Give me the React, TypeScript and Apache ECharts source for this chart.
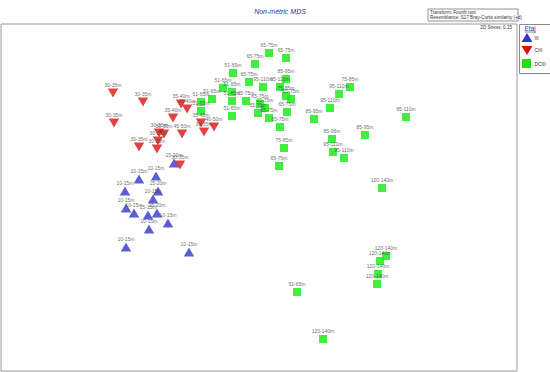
import React, { useEffect, useRef } from "react";
import * as echarts from "echarts";

// MDS ordination positions (in plot units)
const iiiX = [174, 156, 139, 125, 158, 153, 126, 134, 148, 157, 168, 149, 126, 189];
const iiiY = [163, 176, 179, 191, 191, 199, 208, 213, 215, 213, 223, 229, 247, 252];
const iiiLabels = ["15-20m", "10-15m", "10-15m", "10-15m", "15-20m", "10-15m", "10-15m", "10-15m", "15-15m", "15-20m", "10-15m", "10-15m", "10-15m", "10-15m"];

const ciiiX = [113, 143, 114, 181, 187, 173, 201, 214, 204, 159, 164, 182, 158, 139, 157, 180];
const ciiiY = [93, 102, 123, 104, 109, 118, 123, 127, 132, 133, 134, 134, 141, 147, 149, 165];
const ciiiLabels = ["30-35m", "30-35m", "30-35m", "35-40m", "35-40m", "35-40m", "35-40m", "40-50m", "30-35m", "30-35m", "30-35m", "45-50m", "30-35m", "30-35m", "30-35m", "30-35m"];

const dciiiX = [269, 286, 255, 233, 249, 263, 286, 280, 223, 212, 232, 201, 201, 232, 246, 260, 265, 286, 291, 258, 232, 269, 287, 280, 284, 279, 314, 330, 339, 350, 406, 365, 332, 333, 344, 382, 297, 386, 380, 378, 377, 323];
const dciiiY = [53, 58, 64, 73, 82, 87, 79, 87, 88, 99, 92, 102, 111, 101, 101, 104, 108, 96, 99, 113, 116, 118, 112, 127, 148, 166, 119, 108, 94, 87, 117, 135, 139, 152, 158, 188, 292, 256, 261, 274, 284, 339];
const dciiiLabels = ["65-75m", "65-75m", "65-75m", "51-65m", "65-75m", "95-110m", "85-95m", "95-110m", "51-65m", "51-65m", "51-65m", "51-65m", "51-65m", "51-65m", "65-75m", "65-75m", "65-75m", "75-85m", "65-75m", "65-75m", "51-65m", "65-75m", "65-75m", "65-75m", "75-85m", "65-75m", "85-95m", "95-110m", "95-110m", "75-85m", "95-110m", "85-95m", "85-95m", "95-110m", "95-110m", "120-140m", "51-65m", "120-140m", "120-140m", "120-140m", "120-140m", "120-140m"];

const groupNames = ["III", "CIII", "DCIII"];
const groupColors = ["#3434cc", "#dd1111", "#11e811"];

const FONT = "'Liberation Sans', Arial, sans-serif";

function toData(xs: number[], ys: number[], labels: string[]) {
  return xs.map((x, i) => ({ value: [x, ys[i]], name: labels[i] }));
}

export default function App() {
  const ref = useRef<HTMLDivElement>(null);
  useEffect(() => {
    if (!ref.current) return;
    const chart = echarts.init(ref.current, null, { renderer: "svg" });
    const labelCfg = {
      show: true,
      position: "top" as const,
      distance: 1.5,
      formatter: (p: any) => p.name,
      fontSize: 5,
      color: "#444",
      fontFamily: FONT,
    };
    const option: any = {
      animation: false,
      backgroundColor: "#fff",
      title: {
        text: "Non-metric MDS",
        left: 275,
        top: 3,
        textAlign: "center",
        textStyle: { fontSize: 7, fontStyle: "italic", fontWeight: "normal", color: "#333399", fontFamily: FONT },
      },
      grid: {
        left: 1,
        top: 24,
        right: 33,
        bottom: 1,
        show: true,
        borderColor: "#9a9a9a",
        borderWidth: 1,
        backgroundColor: "transparent",
      },
      xAxis: { type: "value", min: 1, max: 517, show: false },
      yAxis: { type: "value", min: 24, max: 371, inverse: true, show: false },
      series: [
        {
          name: groupNames[0],
          type: "scatter",
          symbol: "triangle",
          symbolSize: [10.5, 9],
          itemStyle: { color: groupColors[0] },
          label: labelCfg,
          data: toData(iiiX, iiiY, iiiLabels),
        },
        {
          name: groupNames[1],
          type: "scatter",
          symbol: "triangle",
          symbolRotate: 180,
          symbolSize: [10.5, 9],
          itemStyle: { color: groupColors[1] },
          label: labelCfg,
          data: toData(ciiiX, ciiiY, ciiiLabels),
        },
        {
          name: groupNames[2],
          type: "scatter",
          symbol: "rect",
          symbolSize: 8,
          itemStyle: { color: groupColors[2] },
          label: labelCfg,
          data: toData(dciiiX, dciiiY, dciiiLabels),
        },
      ],
      graphic: [
        {
          type: "rect",
          shape: { x: 428, y: 9, width: 90, height: 12 },
          style: { fill: "#fff", stroke: "#777", lineWidth: 0.8 },
        },
        {
          type: "text",
          x: 430,
          y: 9.5,
          style: { text: "Transform: Fourth root", fontSize: 4.6, fill: "#333", fontFamily: FONT },
        },
        {
          type: "text",
          x: 430,
          y: 15,
          style: { text: "Resemblance: S17 Bray-Curtis similarity (+d)", fontSize: 4.6, fill: "#333", fontFamily: FONT },
        },
        {
          type: "text",
          x: 512,
          y: 25,
          style: { text: "2D Stress: 0.15", fontSize: 4.6, fill: "#333", fontFamily: FONT, align: "right" },
        },
        {
          type: "rect",
          shape: { x: 519.5, y: 24.5, width: 31, height: 49 },
          style: { fill: "#fff", stroke: "#8a8a8a", lineWidth: 1 },
        },
        {
          type: "text",
          x: 530,
          y: 24.5,
          style: { text: "Etaj", fontSize: 6.5, fill: "#333399", fontFamily: FONT, align: "center" },
        },
        {
          type: "line",
          shape: { x1: 524.5, y1: 32, x2: 535.5, y2: 32 },
          style: { stroke: "#333399", lineWidth: 0.6 },
        },
        {
          type: "polygon",
          shape: { points: [[527, 33], [521.5, 42], [532.5, 42]] },
          style: { fill: groupColors[0] },
        },
        {
          type: "text",
          x: 534.5,
          y: 35.5,
          style: { text: groupNames[0], fontSize: 5, fill: "#333", fontFamily: FONT },
        },
        {
          type: "polygon",
          shape: { points: [[521.5, 46], [532.5, 46], [527, 55]] },
          style: { fill: groupColors[1] },
        },
        {
          type: "text",
          x: 534.5,
          y: 47.5,
          style: { text: groupNames[1], fontSize: 5, fill: "#333", fontFamily: FONT },
        },
        {
          type: "rect",
          shape: { x: 522, y: 59, width: 9, height: 9 },
          style: { fill: groupColors[2] },
        },
        {
          type: "text",
          x: 534.5,
          y: 61,
          style: { text: groupNames[2], fontSize: 5, fill: "#333", fontFamily: FONT },
        },
      ],
    };
    chart.setOption(option);
    return () => chart.dispose();
  }, []);
  return (
    <div ref={ref} style={{ position: "fixed", left: 0, top: 0, width: 550, height: 372 }} />
  );
}
